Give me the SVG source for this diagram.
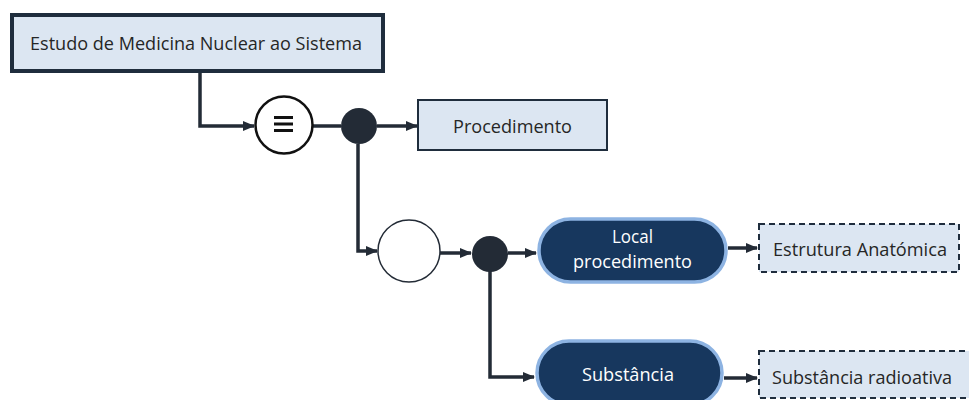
<svg xmlns="http://www.w3.org/2000/svg" width="969" height="400" viewBox="0 0 969 400">
<style>
.txt{font-family:"Open Sans","Liberation Sans",sans-serif;font-size:18px;fill:#262626}
.wtxt{font-family:"Open Sans","Liberation Sans",sans-serif;font-size:18px;fill:#ffffff}
.box{fill:#dce6f2;stroke:#1f2d3d;stroke-width:2}
.dbox{fill:#dce6f2;stroke:#1f2d3d;stroke-width:2;stroke-dasharray:6,4}
.pill{fill:#17375e;stroke:#8db3e2;stroke-width:3.5}
.dot{fill:#232b36}
.conn{fill:none;stroke:#232b36;stroke-width:3.5}
</style>
<defs>
<marker id="arr" markerUnits="userSpaceOnUse" markerWidth="12" markerHeight="12" viewBox="0 0 12 12" refX="11" refY="6" orient="auto">
<path d="M0,1 L12,6 L0,11 Z" fill="#232b36"/>
</marker>
</defs>
<g id="connectors">
<path class="conn" d="M200,72 V126 H254" marker-end="url(#arr)"/>
<path class="conn" d="M313,126 H341"/>
<path class="conn" d="M377,126 H417" marker-end="url(#arr)"/>
<path class="conn" d="M358,144 V251 H377" marker-end="url(#arr)"/>
<path class="conn" d="M440,253 H471" marker-end="url(#arr)"/>
<path class="conn" d="M508,253 H536" marker-end="url(#arr)"/>
<path class="conn" d="M490,271 V377 H534" marker-end="url(#arr)"/>
<path class="conn" d="M728,248 H757" marker-end="url(#arr)"/>
<path class="conn" d="M724,378 H757" marker-end="url(#arr)"/>
</g>
<g id="estudo">
<rect x="12" y="15" width="371" height="56" fill="#dce6f2" stroke="#1f2d3d" stroke-width="4"/>
<text class="txt" x="30" y="50" textLength="332" lengthAdjust="spacingAndGlyphs">Estudo de Medicina Nuclear ao Sistema</text>
</g>
<g id="equiv">
<circle cx="284" cy="125" r="28.5" fill="#ffffff" stroke="#111111" stroke-width="2.5"/>
<path d="M274,117.5 H293 M274,124 H293 M274,130.5 H293" stroke="#111111" stroke-width="2.8"/>
</g>
<g id="dot1"><circle class="dot" cx="359" cy="126" r="18"/></g>
<g id="procedimento">
<rect class="box" x="418" y="100" width="189" height="50"/>
<text class="txt" x="512.5" y="133" text-anchor="middle" textLength="119" lengthAdjust="spacingAndGlyphs">Procedimento</text>
</g>
<g id="circle2"><circle cx="409" cy="251" r="31" fill="#ffffff" stroke="#232b36" stroke-width="1.5"/></g>
<g id="dot2"><circle class="dot" cx="490" cy="254" r="18"/></g>
<g id="local">
<rect class="pill" x="539" y="219" width="187" height="63" rx="31.5"/>
<text class="wtxt" x="632.5" y="243" text-anchor="middle" textLength="41" lengthAdjust="spacingAndGlyphs">Local</text>
<text class="wtxt" x="632.5" y="268" text-anchor="middle" textLength="119" lengthAdjust="spacingAndGlyphs">procedimento</text>
</g>
<g id="substancia">
<rect class="pill" x="537" y="341" width="185" height="64" rx="32"/>
<text class="wtxt" x="628" y="381" text-anchor="middle" textLength="92" lengthAdjust="spacingAndGlyphs">Substância</text>
</g>
<g id="estrutura">
<rect class="dbox" x="759" y="224" width="200" height="48"/>
<text class="txt" x="773" y="256" textLength="174" lengthAdjust="spacingAndGlyphs">Estrutura Anatómica</text>
</g>
<g id="radioativa">
<rect class="dbox" x="759" y="351" width="220" height="47"/>
<text class="txt" x="772" y="384" textLength="180" lengthAdjust="spacingAndGlyphs">Substância radioativa</text>
</g>
</svg>
